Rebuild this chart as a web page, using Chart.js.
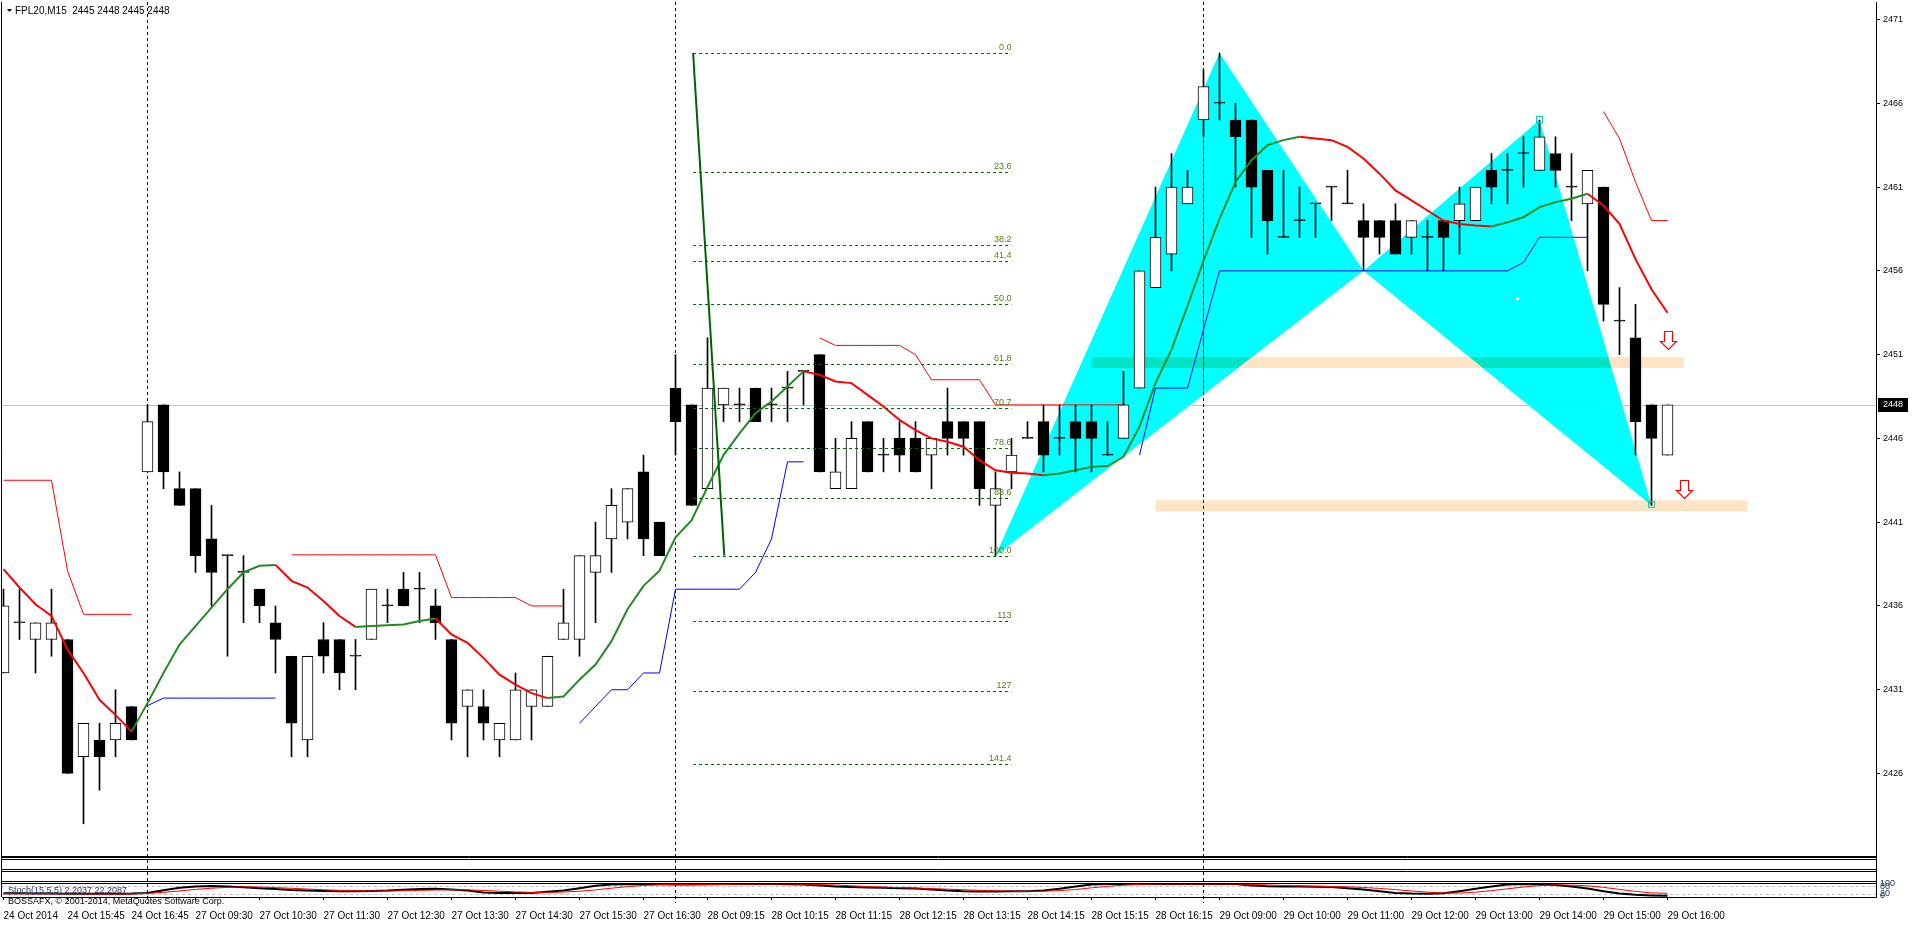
<!DOCTYPE html>
<html>
<head>
<meta charset="utf-8">
<title>FPL20,M15</title>
<script src="https://cdn.jsdelivr.net/npm/chart.js@4.4.1/dist/chart.umd.min.js"></script>
<style>
  html, body { margin: 0; padding: 0; background: #fff; }
  canvas { display: block; }
</style>
</head>
<body>
<canvas id="chart" width="1916" height="926"></canvas>
<script>
// M15 bars, index 0 = first visible bar (24 Oct), 104 = 29 Oct 16:00
const opens  = [2432,2435,2434,2434,2434,2427,2428,2428,2430,2444, 2448,2443,2443,2440,2439,2438,2437,2435,2433,2428,
                2434,2434,2433,2434,2436,2437,2437,2436,2434,2430, 2430,2428,2428,2430,2430,2434,2434,2438,2440,2441,
                2444,2441,2449,2448,2443,2448,2448,2449,2448,2449, 2450,2451,2443,2443,2447,2445,2446,2446,2445,2447,
                2447,2447,2442,2444,2446,2447,2446,2447,2447,2445, 2446,2449,2455,2457,2460,2465,2466,2465,2465,2462,
                2458,2459,2460,2461,2460,2459,2459,2459,2458,2458, 2459,2459,2459,2462,2462,2463,2462,2463,2461,2460,
                2461,2453,2452,2448,2445];
const highs  = [2437,2437,2435,2437,2434,2429,2429,2431,2430,2448, 2448,2444,2443,2442,2439,2439,2437,2436,2433,2433,
                2435,2434,2434,2437,2437,2438,2438,2437,2434,2431, 2431,2429,2432,2431,2433,2437,2439,2441,2443,2443,
                2445,2441,2451,2448,2452,2449,2449,2449,2449,2450, 2450,2451,2446,2447,2447,2446,2447,2447,2446,2449,
                2447,2447,2444,2446,2447,2448,2448,2448,2448,2447, 2450,2456,2461,2463,2462,2468,2469,2466,2465,2462,
                2462,2461,2460,2461,2462,2460,2459,2460,2459,2459, 2459,2461,2461,2463,2463,2464,2465,2464,2463,2462,
                2461,2455,2454,2448,2448];
const lows   = [2432,2434,2432,2433,2426,2423,2425,2427,2428,2444, 2443,2442,2438,2436,2433,2435,2435,2432,2427,2427,
                2432,2431,2431,2434,2435,2436,2435,2434,2428,2427, 2428,2427,2428,2428,2430,2434,2433,2435,2438,2440,
                2439,2439,2445,2442,2443,2447,2447,2447,2447,2447, 2448,2444,2443,2443,2444,2444,2444,2444,2443,2445,
                2445,2442,2439,2443,2446,2444,2445,2444,2444,2445, 2446,2449,2455,2456,2460,2464,2465,2461,2458,2457,
                2458,2458,2458,2459,2460,2456,2457,2457,2457,2456, 2456,2457,2459,2460,2460,2461,2462,2461,2459,2456,
                2453,2451,2445,2442,2445];
const closes = [2436,2435,2435,2435,2426,2429,2427,2429,2428,2447, 2444,2442,2439,2438,2439,2438,2436,2434,2429,2433,
                2433,2432,2433,2437,2436,2436,2437,2435,2429,2431, 2429,2429,2431,2431,2433,2435,2439,2439,2442,2443,
                2440,2439,2447,2442,2449,2449,2448,2447,2448,2449, 2450,2444,2444,2446,2444,2445,2445,2444,2446,2446,
                2446,2443,2443,2445,2446,2445,2446,2446,2446,2445, 2448,2456,2458,2461,2461,2467,2466,2464,2461,2459,
                2458,2459,2460,2461,2460,2458,2458,2457,2459,2458, 2458,2460,2461,2461,2462,2463,2464,2462,2461,2462,
                2454,2453,2447,2446,2448];

// time scale labels, one every 4 bars
const timeLabels = ['24 Oct 2014','24 Oct 15:45','24 Oct 16:45','27 Oct 09:30','27 Oct 10:30','27 Oct 11:30',
  '27 Oct 12:30','27 Oct 13:30','27 Oct 14:30','27 Oct 15:30','27 Oct 16:30','28 Oct 09:15','28 Oct 10:15',
  '28 Oct 11:15','28 Oct 12:15','28 Oct 13:15','28 Oct 14:15','28 Oct 15:15','28 Oct 16:15','29 Oct 09:00',
  '29 Oct 10:00','29 Oct 11:00','29 Oct 12:00','29 Oct 13:00','29 Oct 14:00','29 Oct 15:00','29 Oct 16:00'];
const labelStep = 4;
const priceTicks = [2426, 2431, 2436, 2441, 2446, 2451, 2456, 2461, 2466, 2471];
const lastPrice = 2448;

// thick moving average (red while falling, green while rising)
const maLine = [2438.2,2437.1,2436.1,2435.4,2433.4,2432.0,2430.4,2429.5,2428.5,2430.2,
  2432.0,2433.7,2434.8,2435.9,2437.0,2438.0,2438.4,2438.45,2437.5,2437.1,
  2436.3,2435.4,2434.75,2434.8,2434.85,2434.9,2435.1,2435.25,2434.3,2433.8,
  2432.9,2431.9,2431.3,2430.8,2430.5,2430.6,2431.6,2432.5,2433.9,2435.8,
  2437.2,2438.1,2440.1,2441.1,2443.1,2445.0,2446.3,2447.5,2448.2,2449.1,
  2450.0,2449.8,2449.4,2449.3,2448.6,2447.9,2447.1,2446.5,2446.0,2445.8,
  2445.5,2444.7,2444.1,2443.95,2443.9,2443.8,2443.9,2444.1,2444.3,2444.35,
  2444.9,2446.7,2449.3,2451.3,2453.9,2456.6,2459.1,2461.3,2462.6,2463.5,
  2463.8,2464.0,2463.9,2463.8,2463.4,2462.7,2461.8,2460.8,2460.2,2459.6,
  2459.0,2458.8,2458.7,2458.65,2458.9,2459.2,2459.8,2460.1,2460.3,2460.6,
  2459.9,2458.8,2456.7,2454.9,2453.5];

// thin stepped bands, drawn in pieces
const upperBand = [
  { from: 0,   values: [2443.5,2443.5,2443.5,2443.5,2438.1,2435.5,2435.5,2435.5,2435.5] },
  { from: 18,  values: [2439.05,2439.05,2439.05,2439.05,2439.05,2439.05,2439.05,2439.05,2439.05,2439.05,
                        2436.5,2436.5,2436.5,2436.5,2436.5,2436,2436,2436] },
  { from: 51,  values: [2452,2451.55,2451.55,2451.55,2451.55,2451.55,2451,2449.5,2449.5,2449.5,2449.5,
                        2448,2448,2448,2448,2448,2448,2448,2448,2448] },
  { from: 100, values: [2465.5,2463.9,2461.3,2459,2459] }
];
const lowerBand = [
  { from: 9,  values: [2430.05,2430.5,2430.5,2430.5,2430.5,2430.5,2430.5,2430.5,2430.5] },
  { from: 36, values: [2429,2430,2431,2431,2432,2432,2437,2437,2437,2437,2437,2438,2440,2444.6,2444.6] },
  { from: 71, values: [2445,2449,2449,2449,2452.5,2456,2456,2456,2456,2456,2456,2456,2456,2456,2456,
                       2456,2456,2456,2456,2456,2456,2456,2456,2456,2456.5,2458,2458,2458,2458] }
];

// Stoch(15,5,5)
const stochMain = [22,22,21,21,19,18,18,19,21,26, 48,68,80,84,80,72,65,58,50,45,
  42,40,40,42,45,52,58,60,55,45, 30,25,24,25,35,45,65,85,95,98,
  100,98,95,96,98,100,100,100,100,98, 95,88,80,75,70,68,65,62,55,45,
  40,38,38,40,40,45,60,80,95,100, 100,100,100,100,100,100,100,100,88,82,
  80,80,78,75,65,55,40,25,20,18, 22,40,60,80,95,100,98,92,80,62,
  40,20,10,5,2.2037];
const stochSignal = [18,18,19,19,18,17,16,16,17,22, 30,42,55,65,72,76,75,70,64,58,
  52,47,44,42,42,44,47,50,52,51, 46,40,34,30,29,33,40,51,65,78,
  88,94,97,97,97,97,98,99,100,100, 99,96,91,85,79,74,70,66,62,57,
  52,47,43,40,39,40,45,54,68,80, 90,97,100,100,100,100,100,100,97,92,
  87,84,81,79,76,71,63,53,42,32, 25,24,32,45,60,75,87,93,91,85,
  72,55,38,26,22.2087];
const stochLevels = [20, 80];

// period separators (bar index)
const separators = [9, 42, 75];

// Fibonacci retracement
const fibLevels = [0, 23.6, 38.2, 41.4, 50, 61.8, 70.7, 78.6, 88.6, 100, 113, 127, 141.4];
const fibLabels = ['0.0','23.6','38.2','41.4','50.0','61.8','70.7','78.6','88.6','100.0','113','127','141.4'];
const fibHigh = 2469, fibLow = 2439;
const fibFrom = 43.1, fibTo = 63;
const fibTrendBars = [43.1, 45.05];
const fibTrendPrices = [2469, 2439];

// harmonic pattern X A B C D
const patternBars   = [62, 76, 85, 96, 103];
const patternPrices = [2439, 2469, 2456, 2465, 2442];

// reversal zones
const zoneFrom = [68, 72];
const zoneTo = [105, 109];
const zoneTop = [2450.85, 2442.3];
const zoneBottom = [2450.2, 2441.65];

// sell arrows
const arrowBars = [104, 105];
const arrowPrices = [2452.4, 2443.5];

const bars = closes.map((c, i) => i);

Chart.defaults.font.family = "'Liberation Sans', Arial, sans-serif";
Chart.defaults.color = '#000';

function bandDatasets(pieces, color) {
  return pieces.map(p => ({
    type: 'line',
    data: p.values.map((v, k) => ({ x: p.from + k, y: v })),
    borderColor: color,
    borderWidth: 1,
    pointRadius: 0,
    order: 2
  }));
}

// keep the plot area where it is: no extra room for tick labels
function noLabelPadding(s) {
  s.paddingLeft = 0;
  s.paddingRight = 0;
  s.paddingTop = 0;
  s.paddingBottom = 0;
}

function drawArrow(ctx, cx, top) {
  ctx.beginPath();
  ctx.moveTo(cx - 4, top);
  ctx.lineTo(cx + 4, top);
  ctx.lineTo(cx + 4, top + 10);
  ctx.lineTo(cx + 8, top + 10);
  ctx.lineTo(cx, top + 18);
  ctx.lineTo(cx - 8, top + 10);
  ctx.lineTo(cx - 4, top + 10);
  ctx.closePath();
  ctx.fillStyle = '#fff';
  ctx.fill();
  ctx.lineWidth = 1.2;
  ctx.strokeStyle = '#ff0000';
  ctx.stroke();
}

const overlay = {
  id: 'overlay',
  beforeDatasetsDraw(chart) {
    const { ctx, chartArea: a, scales } = chart;
    const x = scales.x, y = scales.y, ys = scales.ys;
    ctx.save();

    // XAB and BCD triangles
    ctx.fillStyle = '#00ffff';
    [[0, 1, 2], [2, 3, 4]].forEach(tri => {
      ctx.beginPath();
      tri.forEach((k, j) => {
        const px = x.getPixelForValue(patternBars[k]);
        const py = y.getPixelForValue(patternPrices[k]);
        if (j) ctx.lineTo(px, py); else ctx.moveTo(px, py);
      });
      ctx.closePath();
      ctx.fill();
    });

    // zones blend with the triangles
    ctx.globalCompositeOperation = 'multiply';
    ctx.fillStyle = '#ffe4c4';
    zoneFrom.forEach((f, k) => {
      const x0 = x.getPixelForValue(f), x1 = x.getPixelForValue(zoneTo[k]);
      const y0 = y.getPixelForValue(zoneTop[k]), y1 = y.getPixelForValue(zoneBottom[k]);
      ctx.fillRect(x0, y0, x1 - x0, y1 - y0);
    });
    ctx.globalCompositeOperation = 'source-over';

    // last price line
    const lp = Math.round(y.getPixelForValue(lastPrice)) + 0.5;
    ctx.strokeStyle = '#c0c0c0';
    ctx.lineWidth = 1;
    ctx.beginPath();
    ctx.moveTo(a.left, lp);
    ctx.lineTo(a.right, lp);
    ctx.stroke();

    // stoch levels
    ctx.setLineDash([3, 3]);
    stochLevels.forEach(v => {
      const py = Math.round(ys.getPixelForValue(v)) + 0.5;
      ctx.beginPath();
      ctx.moveTo(a.left, py);
      ctx.lineTo(a.right, py);
      ctx.stroke();
    });

    // period separators
    ctx.strokeStyle = '#000';
    separators.forEach(b => {
      const px = Math.floor(x.getPixelForValue(b)) + 0.5;
      ctx.beginPath();
      ctx.moveTo(px, a.top);
      ctx.lineTo(px, a.bottom + 6);
      ctx.stroke();
    });
    // red marker on the last separator
    ctx.strokeStyle = '#ff0000';
    const rx = Math.floor(x.getPixelForValue(75)) + 0.5;
    ctx.beginPath();
    ctx.moveTo(rx, y.getPixelForValue(2464));
    ctx.lineTo(rx, y.getPixelForValue(2448.7));
    ctx.stroke();
    ctx.restore();
  },
  afterDatasetsDraw(chart) {
    const { ctx, scales } = chart;
    const x = scales.x, y = scales.y;
    ctx.save();

    // fib levels
    const fx0 = x.getPixelForValue(fibFrom), fx1 = x.getPixelForValue(fibTo);
    ctx.font = "9px 'Liberation Sans'";
    ctx.textAlign = 'right';
    ctx.textBaseline = 'bottom';
    fibLevels.forEach((lvl, k) => {
      const price = fibHigh - (fibHigh - fibLow) * lvl / 100;
      const py = Math.round(y.getPixelForValue(price)) + 0.5;
      ctx.strokeStyle = '#006400';
      ctx.lineWidth = 1;
      ctx.setLineDash([3, 3]);
      ctx.beginPath();
      ctx.moveTo(fx0, py);
      ctx.lineTo(fx1, py);
      ctx.stroke();
      ctx.fillStyle = '#557f10';
      ctx.fillText(fibLabels[k], fx1, py - 1);
    });
    ctx.setLineDash([]);

    // C and D markers
    ctx.strokeStyle = '#18c8b8';
    [3, 4].forEach(k => {
      const px = Math.round(x.getPixelForValue(patternBars[k]));
      const py = Math.round(y.getPixelForValue(patternPrices[k]));
      ctx.strokeRect(px - 3.5, py - 3.5, 6, 6);
    });
    ctx.fillStyle = '#fff';
    ctx.fillRect(Math.round(x.getPixelForValue(94.6)) - 1, Math.round(y.getPixelForValue(2454.4)) - 1, 3, 3);

    // arrows
    arrowBars.forEach((b, k) => {
      drawArrow(ctx, Math.round(x.getPixelForValue(b)) + 0.5, Math.round(y.getPixelForValue(arrowPrices[k])) + 0.5);
    });
    ctx.restore();
  },
  afterDraw(chart) {
    const { ctx, chartArea: a, scales } = chart;
    const y = scales.y;
    ctx.save();
    ctx.strokeStyle = '#000';
    ctx.lineWidth = 1;
    ctx.beginPath();
    ctx.moveTo(1.5, a.top);
    ctx.lineTo(1.5, a.bottom);
    [856.5, 857.5, 859.5, 869.5, 871.5, 881.5, 883.5].forEach(py => {
      ctx.moveTo(1, py);
      ctx.lineTo(a.right, py);
    });
    ctx.stroke();

    // header
    ctx.fillStyle = '#000';
    ctx.beginPath();
    ctx.moveTo(7, 9); ctx.lineTo(12, 9); ctx.lineTo(9.5, 12); ctx.closePath();
    ctx.fill();
    ctx.font = "10px 'Liberation Sans'";
    ctx.textBaseline = 'middle';
    ctx.fillText('FPL20,M15  ' + [opens, highs, lows, closes].map(s => s[s.length - 1]).join(' '), 15, 11);

    // stoch caption and copyright
    ctx.font = "9px 'Liberation Sans'";
    ctx.fillStyle = '#203060';
    ctx.fillText('Stoch(15,5,5) ' + stochMain[stochMain.length - 1].toFixed(4) + ' ' + stochSignal[stochSignal.length - 1].toFixed(4), 8, 891);
    ctx.fillStyle = '#000';
    ctx.fillText('BOSSAFX, \u00a9 2001-2014, MetaQuotes Software Corp.', 8, 902);

    // stoch scale labels (crowded)
    ctx.fillStyle = '#203060';
    [[100, '100'], [80, '80'], [20, '20'], [0, '0']].forEach(([v, t]) => {
      ctx.fillText(t, 1880, scales.ys.getPixelForValue(v));
    });

    // last price tag
    const lp = Math.round(y.getPixelForValue(lastPrice));
    ctx.fillStyle = '#000';
    ctx.fillRect(a.right + 2, lp - 7, 30, 14);
    ctx.fillStyle = '#fff';
    ctx.font = "9px 'Liberation Sans'";
    ctx.fillText(String(lastPrice), a.right + 7, lp);
    ctx.restore();
  }
};

new Chart(document.getElementById('chart'), {
  type: 'bar',
  data: {
    datasets: [
      {
        type: 'line',
        data: bars.map(i => ({ x: i, y: maLine[i] })),
        borderWidth: 2,
        pointRadius: 0,
        segment: { borderColor: c => c.p1.parsed.y < c.p0.parsed.y ? '#ff0000' : '#228b22' },
        order: 1
      },
      ...bandDatasets(upperBand, '#ff0000'),
      ...bandDatasets(lowerBand, '#0000ff'),
      {
        type: 'line',
        data: fibTrendBars.map((b, k) => ({ x: b, y: fibTrendPrices[k] })),
        borderColor: '#006400',
        borderWidth: 2,
        pointRadius: 0,
        order: 0
      },
      {
        type: 'line',
        yAxisID: 'ys',
        data: bars.map(i => ({ x: i, y: stochSignal[i] })),
        borderColor: '#ff0000',
        borderWidth: 1,
        pointRadius: 0,
        order: 3
      },
      {
        type: 'line',
        yAxisID: 'ys',
        data: bars.map(i => ({ x: i, y: stochMain[i] })),
        borderColor: '#000',
        borderWidth: 2,
        pointRadius: 0,
        order: 4
      },
      {
        data: bars.map(i => ({ x: i, y: [opens[i], closes[i]] })),
        backgroundColor: bars.map(i => closes[i] > opens[i] ? '#ffffff' : '#000000'),
        borderColor: '#000',
        borderWidth: 1,
        borderSkipped: false,
        barThickness: 11,
        minBarLength: 1,
        grouped: false,
        order: 5
      },
      {
        data: bars.map(i => ({ x: i, y: [lows[i], highs[i]] })),
        backgroundColor: '#000',
        borderWidth: 0,
        barThickness: 1,
        grouped: false,
        order: 6
      }
    ]
  },
  options: {
    responsive: false,
    devicePixelRatio: 1,
    animation: false,
    events: [],
    layout: { padding: { left: 2, top: 2, right: 0, bottom: 0 } },
    plugins: { legend: { display: false }, tooltip: { enabled: false } },
    scales: {
      x: {
        type: 'linear',
        position: 'bottom',
        min: -0.09375,
        max: 117.03125,
        offset: false,
        afterBuildTicks: s => { s.ticks = timeLabels.map((t, k) => ({ value: k * labelStep })); },
        afterFit: s => { s.height = 29; noLabelPadding(s); },
        ticks: {
          autoSkip: false,
          maxRotation: 0,
          minRotation: 0,
          align: 'start',
          padding: 10,
          font: { size: 10 },
          callback: (v, k) => timeLabels[k]
        },
        grid: { drawOnChartArea: false, offset: false, tickLength: 3, color: '#000' },
        border: { display: true, color: '#000' }
      },
      y: {
        type: 'linear',
        position: 'right',
        // 2471 at 19.5px and 2426 at 773.5px inside a 2..897 plot area
        min: 2418.63,
        max: 2472.044,
        afterBuildTicks: s => { s.ticks = priceTicks.map(v => ({ value: v })); },
        afterFit: s => { s.width = 40; noLabelPadding(s); },
        ticks: { padding: 3, font: { size: 9 }, callback: v => String(v) },
        grid: { drawOnChartArea: false, tickLength: 4, color: '#000' },
        border: { display: true, color: '#000' }
      },
      ys: {
        type: 'linear',
        display: false,
        // squeezes 0..100 into the stoch strip at the bottom (884..896px)
        min: -8.333,
        max: 7450
      }
    }
  },
  plugins: [overlay]
});
</script>
</body>
</html>
